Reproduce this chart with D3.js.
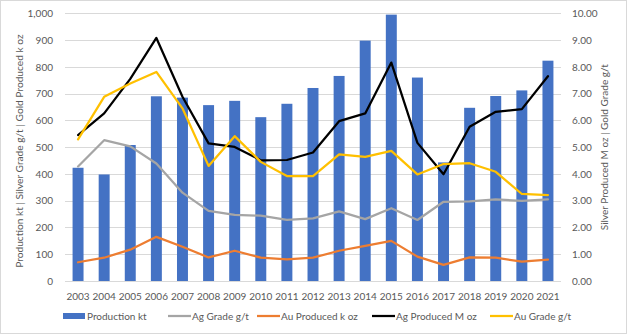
<!DOCTYPE html>
<html><head><meta charset="utf-8">
<script src="https://cdn.jsdelivr.net/npm/d3@7"></script>
<style>body{margin:0;background:#fff}svg{display:block}text{font-family:Lato,"Open Sans",sans-serif}</style>
</head><body><svg id="c" width="627" height="334"></svg>
<script>
const years = ["2003","2004","2005","2006","2007","2008","2009","2010","2011","2012","2013","2014","2015","2016","2017","2018","2019","2020","2021"];
const productionKt = [423,398,508,690,685,657,673,612,662,721,766,898,995,760,443,647,691,712,823];
const agGrade = [428,526,503,439,330,262,247,244,228,234,260,231,272,228,296,297,305,299,305];
const auProducedKoz = [70,87,117,165,128,88,113,87,81,87,113,131,150,91,60,88,87,72,80];
const agProducedMoz = [5.45,6.26,7.55,9.08,6.88,5.14,5.01,4.51,4.52,4.80,5.97,6.26,8.16,5.16,3.99,5.76,6.32,6.42,7.65];
const auGrade = [5.29,6.88,7.38,7.81,6.45,4.30,5.41,4.45,3.92,3.92,4.73,4.64,4.86,3.98,4.37,4.40,4.08,3.25,3.21];
const leftTicks = [0,100,200,300,400,500,600,700,800,900,1000];
const rightTicks = [0,1,2,3,4,5,6,7,8,9,10];

const svg = d3.select("#c");
const W=627,H=334;
svg.append("rect").attr("x",0.5).attr("y",0.5).attr("width",W-1).attr("height",H-1).attr("fill","#fff").attr("stroke","#d9d9d9");
const L=65,R=561,T=13.3,B=281;
const x = d3.scaleBand().domain(years).range([L,R]).paddingInner(0.58).paddingOuter(0.29);
const yL = d3.scaleLinear().domain([0,1000]).range([B,T]);
const yR = d3.scaleLinear().domain([0,10]).range([B,T]);
const txt="#595959";

svg.append("g").selectAll("line").data(leftTicks).join("line")
  .attr("x1",L).attr("x2",R).attr("y1",d=>Math.round(yL(d))+0.5).attr("y2",d=>Math.round(yL(d))+0.5)
  .attr("stroke","#d9d9d9").attr("stroke-width",1);

const ga = svg.append("g").attr("transform",`translate(${L-9},0)`)
  .call(d3.axisLeft(yL).tickValues(leftTicks).tickFormat(d3.format(",")).tickSize(0));
ga.select(".domain").remove();
ga.selectAll("text").attr("fill",txt).style("font-size","10px");
const gr = svg.append("g").attr("transform",`translate(${R+8},0)`)
  .call(d3.axisRight(yR).tickValues(rightTicks).tickFormat(d3.format(".2f")).tickSize(0));
gr.select(".domain").remove();
gr.selectAll("text").attr("fill",txt).style("font-size","10px");
const gx = svg.append("g").attr("transform",`translate(0,${B+9})`)
  .call(d3.axisBottom(x).tickSize(0));
gx.select(".domain").remove();
gx.selectAll("text").attr("fill",txt).style("font-size","10px");
svg.append("line").attr("x1",L).attr("x2",R).attr("y1",B+0.5).attr("y2",B+0.5).attr("stroke","#d9d9d9");

svg.append("g").selectAll("rect").data(productionKt).join("rect")
  .attr("x",(d,i)=>x(years[i])).attr("width",x.bandwidth())
  .attr("y",d=>yL(d)).attr("height",d=>B-yL(d)).attr("fill","#4472C4");

const cx = i => x(years[i])+x.bandwidth()/2;
function line(data,scale,color){
  svg.append("path").datum(data)
    .attr("d",d3.line().x((d,i)=>cx(i)).y(d=>scale(d)))
    .attr("fill","none").attr("stroke",color).attr("stroke-width",2.25)
    .attr("stroke-linejoin","round").attr("stroke-linecap","round");
}
line(agGrade,yL,"#A5A5A5");
line(auProducedKoz,yL,"#ED7D31");
line(agProducedMoz,yR,"#000000");
line(auGrade,yR,"#FFC000");

svg.append("text").attr("transform",`translate(23,${(T+B)/2+4}) rotate(-90)`)
  .attr("text-anchor","middle").attr("fill",txt).style("font-size","10.2px")
  .text("Production kt | Silver Grade g/t | Gold Produced k oz");
svg.append("text").attr("transform",`translate(608,${(T+B)/2}) rotate(-90)`)
  .attr("text-anchor","middle").attr("fill",txt).style("font-size","10px")
  .text("Silver Produced M oz | Gold Grade g/t");

const legend = [
  {name:"Production kt",color:"#4472C4",type:"bar",x:63},
  {name:"Ag Grade g/t",color:"#A5A5A5",type:"line",x:168},
  {name:"Au Produced k oz",color:"#ED7D31",type:"line",x:257},
  {name:"Ag Produced M oz",color:"#000000",type:"line",x:372},
  {name:"Au Grade g/t",color:"#FFC000",type:"line",x:490}
];
const ly=316;
legend.forEach(l=>{
  if(l.type==="bar"){
    svg.append("rect").attr("x",l.x).attr("y",ly-3).attr("width",22).attr("height",6).attr("fill",l.color);
  } else {
    svg.append("line").attr("x1",l.x).attr("x2",l.x+23).attr("y1",ly).attr("y2",ly).attr("stroke",l.color).attr("stroke-width",2.25);
  }
  svg.append("text").attr("x",l.x+24).attr("y",ly+3.5).attr("fill",txt).style("font-size","10px").text(l.name);
});
</script></body></html>
